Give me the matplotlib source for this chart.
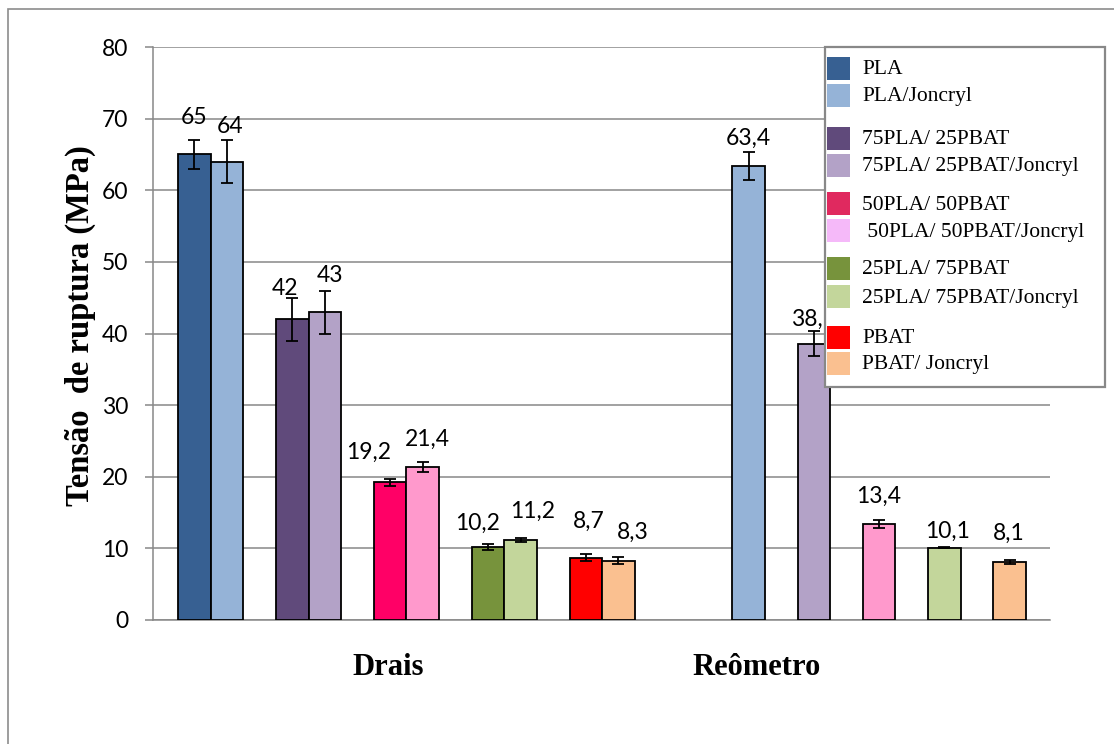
import matplotlib
matplotlib.use("Agg")
import matplotlib.pyplot as plt
from matplotlib.patches import Rectangle

# ---------------- data ----------------
categories = ["Drais", "Reômetro"]
series = ["PLA", "PLA/Joncryl",
          "75PLA/ 25PBAT", "75PLA/ 25PBAT/Joncryl",
          "50PLA/ 50PBAT", " 50PLA/ 50PBAT/Joncryl",
          "25PLA/ 75PBAT", "25PLA/ 75PBAT/Joncryl",
          "PBAT", "PBAT/ Joncryl"]
drais_values = [65, 64, 42, 43, 19.2, 21.4, 10.2, 11.2, 8.7, 8.3]
drais_err = [2.0, 3.0, 3.0, 3.0, 0.5, 0.7, 0.4, 0.3, 0.5, 0.5]
reo_values = [63.4, 38.6, 13.4, 10.1, 8.1]   # Joncryl series only
reo_err = [1.9, 1.8, 0.6, 0.1, 0.3]
yticks = [0, 10, 20, 30, 40, 50, 60, 70, 80]

# ---------------- style ----------------
bar_colors = ["#376092", "#95B3D7", "#604A7B", "#B3A2C7", "#FF0066",
              "#FF99CC", "#77933C", "#C3D69B", "#FF0000", "#FAC090"]
legend_colors = ["#376092", "#95B3D7", "#604A7B", "#B3A2C7", "#E0295F",
                 "#F5B9F9", "#77933C", "#C3D69B", "#FF0000", "#FAC090"]
grid_gray = "#888888"

# label offsets (pixels): (dx, dy above bar top)
drais_lbl_off = [(0, 37), (3, 35), (-7, 31), (5, 37), (-22, 30),
                 (5, 27), (-10, 24), (12, 28), (3, 36), (14, 28)]
reo_lbl_off = [(0, 28), (0, 24), (0, 28), (3, 16), (-1, 29)]

W, H, DPI = 1114, 744, 100
fig = plt.figure(figsize=(W / DPI, H / DPI), dpi=DPI)
plt.rcParams["font.family"] = ["Lato", "DejaVu Sans"]

ax_l, ax_r, ax_t, ax_b = 153, 1050, 47, 620
ax = fig.add_axes([ax_l / W, 1 - ax_b / H, (ax_r - ax_l) / W, (ax_b - ax_t) / H])
ax.set_xlim(0, 27.5)
ax.set_ylim(0, 80)

drais_x = [1.27 + 3 * (i // 2) + (i % 2) for i in range(len(drais_values))]
reo_x = [18.26 + 2 * i for i in range(len(reo_values))]
reo_colors = bar_colors[1::2]

edge_kw = dict(edgecolor="black", linewidth=1.3, zorder=3, width=1.0)
err_kw = dict(fmt="none", ecolor="black", elinewidth=1.3, capsize=4.2,
              capthick=1.3, zorder=4)

ax.bar(drais_x, drais_values, color=bar_colors, **edge_kw)
ax.errorbar(drais_x, drais_values, yerr=drais_err, **err_kw)
ax.bar(reo_x, reo_values, color=reo_colors, **edge_kw)
ax.errorbar(reo_x, reo_values, yerr=reo_err, **err_kw)

def fmt(v):
    return f"{v:g}".replace(".", ",")

for xs, vs, offs in ((drais_x, drais_values, drais_lbl_off),
                     (reo_x, reo_values, reo_lbl_off)):
    for x, v, (dx, dy) in zip(xs, vs, offs):
        ax.annotate(fmt(v), (x, v), xytext=(dx * 72 / DPI, dy * 72 / DPI),
                    textcoords="offset points", ha="center", va="center",
                    fontsize=16.5, color="black", zorder=5)

# grid and spines
ax.set_yticks(yticks)
ax.set_yticklabels([str(t) for t in yticks], fontsize=16.5)
ax.yaxis.grid(True, color=grid_gray, linewidth=1.1, zorder=0)
ax.set_axisbelow(True)
ax.tick_params(axis="y", length=6, width=1.1, color=grid_gray, pad=12)
ax.tick_params(axis="x", length=0)
ax.set_xticks([])
for s in ("top", "right"):
    ax.spines[s].set_visible(False)
ax.spines["left"].set_color(grid_gray)
ax.spines["left"].set_linewidth(1.1)
ax.spines["bottom"].set_color(grid_gray)
ax.spines["bottom"].set_linewidth(1.1)

# category labels
cat_x = [7.22, 18.49]
for cx, name in zip(cat_x, categories):
    ax.text(cx, -6.6, name, ha="center", va="center", fontsize=22,
            fontweight="bold", family=["Liberation Serif"], clip_on=False)

# y label
fig.text(80 / W, 1 - 326 / H, "Tensão  de ruptura (MPa)", rotation=90,
         ha="center", va="center", fontsize=23.5, fontweight="bold",
         family=["Liberation Serif"])

# outer border
fig.patches.append(Rectangle((8 / W, -0.1), 1.2, 1 - 9 / H + 0.1,
                             transform=fig.transFigure, fill=False,
                             edgecolor="#8c8c8c", linewidth=1.2, zorder=0))

# legend (custom-drawn box)
lg_l, lg_t, lg_r, lg_b = 825, 47, 1105, 387
fig.patches.append(Rectangle((lg_l / W, 1 - lg_b / H), (lg_r - lg_l) / W,
                             (lg_b - lg_t) / H, transform=fig.transFigure,
                             facecolor="white", edgecolor=grid_gray,
                             linewidth=1.6, zorder=10))
sw_tops = [57, 84, 127, 154, 192, 219, 257, 285, 326, 352]
for name, col, top in zip(series, legend_colors, sw_tops):
    fig.patches.append(Rectangle((827 / W, 1 - (top + 23) / H), 23 / W, 23 / H,
                                 transform=fig.transFigure, facecolor=col,
                                 edgecolor="none", zorder=11))
    fig.text(862 / W, 1 - (top + 13) / H, name, ha="left", va="center",
             fontsize=15.5, family=["Liberation Serif"], zorder=12)

fig.savefig("out.png", dpi=DPI)
